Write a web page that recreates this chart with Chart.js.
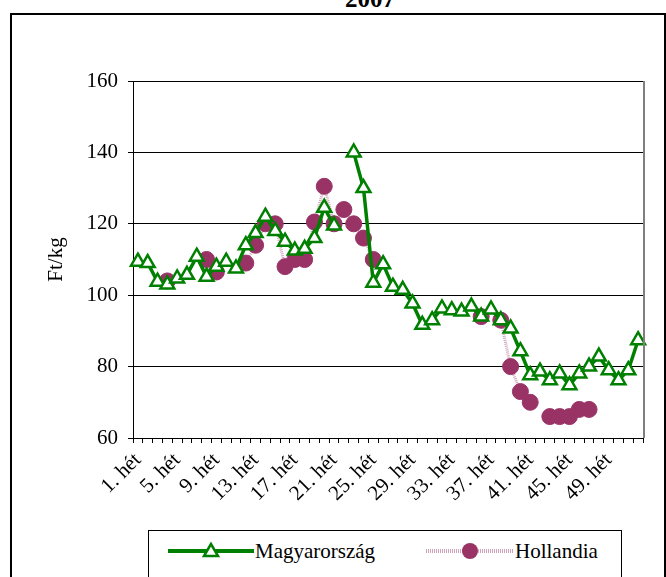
<!DOCTYPE html>
<html>
<head>
<meta charset="utf-8">
<title>2007</title>
<script src="https://cdn.jsdelivr.net/npm/chart.js@4"></script>
<style>
  body { margin: 0; background: #fff; font-family: "Liberation Serif", "Times New Roman", serif; }
  #wrap { position: relative; width: 666px; height: 577px; overflow: hidden; }
  #frame { position: absolute; left: 10px; top: 13px; width: 652px; height: 600px; border: 2px solid #000; }
  #title { position: absolute; left: 310px; width: 120px; top: -14px; text-align: center; font-weight: bold; font-size: 25px; line-height: 25px; }
  #box { position: absolute; left: 0; top: 0; width: 666px; height: 577px; }
  #legend { position: absolute; left: 148px; top: 530px; width: 472px; height: 60px; border: 1px solid #000; background: #fff; }
  .item { position: absolute; top: 8px; height: 24px; font-size: 21px; line-height: 24px; white-space: nowrap; }
  .item svg { position: absolute; top: 2px; left: 0; }
  .item span { position: absolute; top: 0; }
</style>
</head>
<body>
<div id="wrap">
  <div id="frame"></div>
  <div id="title">2007</div>
  <div id="box"><canvas id="myChart"></canvas></div>
  <div id="legend"></div>
</div>
<script>
// weeks
var weeks = ['1. hét','2. hét','3. hét','4. hét','5. hét','6. hét','7. hét','8. hét','9. hét','10. hét',
  '11. hét','12. hét','13. hét','14. hét','15. hét','16. hét','17. hét','18. hét','19. hét','20. hét',
  '21. hét','22. hét','23. hét','24. hét','25. hét','26. hét','27. hét','28. hét','29. hét','30. hét',
  '31. hét','32. hét','33. hét','34. hét','35. hét','36. hét','37. hét','38. hét','39. hét','40. hét',
  '41. hét','42. hét','43. hét','44. hét','45. hét','46. hét','47. hét','48. hét','49. hét','50. hét',
  '51. hét','52. hét'];

// Ft/kg
var magyarorszag = [109.4, 109, 103.8, 103, 104.7, 105.7, 110.8, 105.2, 108, 109.4,
  107.5, 114, 117.4, 122, 118, 115, 112.5, 113, 116, 124.5,
  119.5, null, 140, 130, 103.5, 108.7, 102.4, 101.5, 97.7, 91.7,
  93, 96.3, 95.8, 95.4, 96.8, 94, 96, 93, 90.7, 84.3,
  77.6, 78.6, 76.2, 78.1, 74.8, 78.1, 80, 82.8, 79, 76.2,
  79, 87.4];

var hollandia = [null, null, null, 104, null, null, null, 110, 106.5, null,
  null, 109, 114, 120, 120, 108, 110, 110, 120.5, 130.5,
  120, 124, 120, 116, 110, null, null, null, null, null,
  null, null, null, null, null, 94, null, 93, 80, 73,
  70, null, 66, 66, 66, 68, 68, null, null, null,
  null, null];

var yTicks = [60, 80, 100, 120, 140, 160];

var serif = '"Liberation Serif", "Times New Roman", serif';

var plotBorder = {
  id: 'plotBorder',
  afterDraw: function(chart) {
    var a = chart.chartArea, c = chart.ctx;
    c.save();
    c.strokeStyle = '#808080';
    c.lineWidth = 2;
    c.beginPath();
    c.moveTo(a.right + 1, a.top);
    c.lineTo(a.right + 1, a.bottom);
    c.stroke();
    c.restore();
  }
};

var ctx = document.getElementById('myChart').getContext('2d');
var myChart = new Chart(ctx, {
  type: 'line',
  data: {
    labels: weeks,
    datasets: [{
      label: 'Magyarország',
      data: magyarorszag,
      borderColor: '#008000',
      borderWidth: 3.5,
      pointStyle: 'triangle',
      pointRadius: 8,
      pointBackgroundColor: '#ffffff',
      pointBorderColor: '#008000',
      pointBorderWidth: 2.5,
      spanGaps: false,
      tension: 0
    }, {
      label: 'Hollandia',
      data: hollandia,
      borderColor: 'rgba(153,51,102,0.45)',
      borderWidth: 3,
      borderDash: [1, 1],
      pointStyle: 'circle',
      pointRadius: 8,
      pointBackgroundColor: '#993366',
      pointBorderColor: '#993366',
      pointBorderWidth: 1,
      spanGaps: false,
      tension: 0
    }]
  },
  options: {
    responsive: true,
    maintainAspectRatio: false,
    animation: false,
    layout: { padding: { left: 44, top: 81, right: 23, bottom: 0 } },
    plugins: {
      legend: { display: false },
      title: { display: false },
      tooltip: { enabled: false }
    },
    scales: {
      x: {
        offset: true,
        afterFit: function(scale) { scale.height = 139; },
        grid: { offset: true, drawOnChartArea: false, drawTicks: true, tickLength: 5, color: '#000' },
        border: { color: '#000', width: 1 },
        ticks: {
          autoSkip: false,
          maxRotation: 45,
          minRotation: 45,
          padding: 5,
          color: '#000',
          font: { family: serif, size: 21 },
          callback: function(v, i) { return i % 4 === 0 ? weeks[i] : ''; }
        }
      },
      y: {
        min: 60,
        max: 160,
        afterFit: function(scale) { scale.width = 89; },
        afterBuildTicks: function(scale) { scale.ticks = yTicks.map(function(v) { return { value: v }; }); },
        grid: { color: '#000', lineWidth: 1, drawTicks: true, tickLength: 5 },
        border: { color: '#000', width: 1 },
        ticks: { color: '#000', padding: 10, font: { family: serif, size: 21 } },
        title: { display: true, text: 'Ft/kg', color: '#000', padding: 0, font: { family: serif, size: 21 } }
      }
    }
  },
  plugins: [plotBorder]
});

// legend built from the datasets
var lg = document.getElementById('legend');
var samples = [
  { left: 19, textLeft: 87,
    svg: '<line x1="0" y1="10" x2="86" y2="10" stroke="#008000" stroke-width="4"/>' +
         '<polygon points="43,3 36,15 50,15" fill="#fff" stroke="#008000" stroke-width="2.5"/>' },
  { left: 277, textLeft: 89,
    svg: '<line x1="0" y1="10" x2="88" y2="10" stroke="rgba(153,51,102,0.45)" stroke-width="4" stroke-dasharray="1,1"/>' +
         '<circle cx="44" cy="10" r="8" fill="#993366"/>' }
];
myChart.data.datasets.forEach(function(ds, i) {
  var s = samples[i];
  var d = document.createElement('div');
  d.className = 'item';
  d.style.left = s.left + 'px';
  d.innerHTML = '<svg width="90" height="20">' + s.svg + '</svg><span></span>';
  var t = d.querySelector('span');
  t.style.left = s.textLeft + 'px';
  t.textContent = ds.label;
  lg.appendChild(d);
});
</script>
</body>
</html>
